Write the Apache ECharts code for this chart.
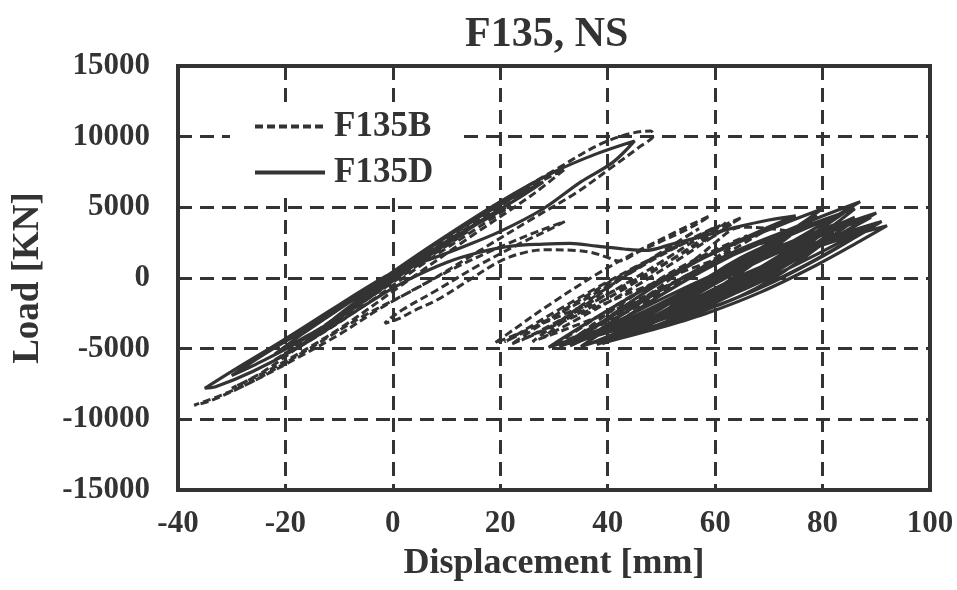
<!DOCTYPE html>
<html>
<head>
<meta charset="utf-8">
<script src="https://cdn.jsdelivr.net/npm/echarts@6/dist/echarts.min.js"></script>
<style>html,body{margin:0;padding:0;background:#fff}#c{width:957px;height:590px}</style>
</head>
<body>
<div id="c"></div>
<script>
// ---- data (displacement mm, load kN) ----
const seriesNames = ['F135B', 'F135D'];
const xTicks = [-40, -20, 0, 20, 40, 60, 80, 100];
const yTicks = [-15000, -10000, -5000, 0, 5000, 10000, 15000];

// F135B (dashed) - cycles around origin
const f135bEarly = [
  [0,0],[6,1300],[12,2800],[8,1800],[0,-300],[-8,-2300],[-14,-3700],[-8,-2100],[0,100],
  [10,2500],[18,4400],[22,5100],[16,3600],[6,1100],[-4,-1600],[-14,-4100],[-22,-5800],
  [-17,-4600],[-8,-2400],[2,400],[14,3600],[26,6500],[32,7700],[26,5900],[14,2800],
  [2,-400],[-10,-3600],[-22,-6300],[-30,-7800],[-24,-6600],[-14,-3900],[-3,-1000],
  [8,2200],[20,5300],[30,7600],[40,9700],[48,10400],[48.5,10100],[46,9300],[41,7900],
  [34,6000],[26,4200],[16,1900],[6,-400],[-6,-2800],[-16,-5100],[-26,-7300],[-32,-8300],
  [-37,-9000],[-34,-8700],[-26,-7300],[-18,-5700],[-10,-4000],[-3,-2300],[4,-800],
  [12,800],[20,2200],[27,3300],[32,4000],[29,3400],[24,2500],[16,900],[8,-900],
  [2,-2200],[-1,-3000],[-1.5,-3200],[1,-2900],[4,-2300],[8.2,-1560],[14,-200],
  [20,1200],[25,1850],[29,2000],[34,1950],[37,1800],[40,1450],[42,1200]
];
// F135B (dashed) - shifted cycles
const f135bLate = [
  [46,1900],[50,2600],[54,3300],[57,3900],[59,4400],
  [53,3320],[45,1784],[37,44],[29,-1924],[23,-3514],[19,-4600],
  [25.9,-3535],[35.1,-2019],[44.3,-299],[53.5,1649],[60.4,3224],[65,4300],
  [58.6,3220],[50,1684],[41.4,-56],[32.8,-2024],[26.3,-3614],[22,-4700],
  [28,-3680],[36,-2224],[44,-564],[52,1324],[58,2854],[62,3900],
  [56.6,2910],[49.4,1494],[42.2,-126],[35,-1974],[29.6,-3474],[26,-4500],
  [32.6,-3570],[41.4,-2234],[50.2,-694],[59,1074],[65.6,2514],[70,3500],
  [64,2525],[56,1129],[48,-471],[40,-2299],[34,-3784],[30,-4800],
  [35.4,-3900],[42.6,-2604],[49.8,-1104],[57,624],[62.4,2034],[66,3000],
  [61.2,2190],[54.8,1014],[48.4,-366],[42,-1974],[37.2,-3294],[34,-4200],
  [37.9,-3420],[43.1,-2300],[48.3,-1010],[53.5,470],[57.4,1675],[60,2500],
  [63,3400],[65,3600],[70,3500],[74,3200],
  [66.5,2195],[56.5,807],[46.5,-683],[36.5,-2287],[29,-3547],[24,-4400],
  [29.4,-3335],[36.6,-1867],[43.8,-297],[51,1387],[56.4,2707],[60,3600],
  [54.2,2520],[46.4,1032],[38.6,-558],[30.8,-2262],[24.9,-3597],[21,-4500],
  [26.4,-3435],[33.6,-1967],[40.8,-397],[48,1287],[53.4,2607],[57,3500],
  [52.7,2480],[46.9,1072],[41.1,-438],[35.3,-2062],[30.9,-3337],[28,-4200],
  [33.3,-3135],[40.3,-1667],[47.3,-97],[54.3,1587],[59.5,2907],[63,3800],
  [60,3000],[58,2600]
];

// F135D (solid) - cycles around origin
const f135dEarly = [
  [0,0],[5,1300],[10,2500],[14,3300],[10,2400],[4,900],[0,-200],[-6,-1800],[-12,-3200],
  [-8,-2000],[-2,-400],[4,1100],[10,2600],[18,4300],[21,5000],[16,3900],[8,1900],[0,-100],
  [-8,-2300],[-16,-4100],[-22,-5400],[-17,-4000],[-10,-2200],[0,300],[10,2900],[20,5200],
  [28,6800],[24,5800],[14,3500],[4,1000],[-6,-1700],[-16,-4200],[-26,-6200],[-30,-6900],
  [-24,-5400],[-14,-3100],[-4,-600],[8,2500],[20,5400],[30,7500],[38,8800],[45,9700],
  [41,8200],[35,6800],[28,4900],[20,3300],[13,2200],[6,1200],[0,400],[-10,-1900],
  [-20,-4300],[-30,-6600],[-35,-7800],[-33,-7700],[-26,-6600],[-18,-5000],[-10,-3100],
  [-3,-1400],[3,-100],[10,1100],[16,1800],[22,2250],[28,2400],[33,2450],[38,2250],
  [43,2050],[47,1950]
];
// F135D (solid) - shifted cycles
const f135dLate = [
  [52,2400],[58,3000],[64,3600],[70,4100],[75,4400],
  [68.7,3390],[60.3,1910],[51.9,160],[43.5,-1895],[37.2,-3590],[33,-4750],
  [40,-3707],[49.5,-2173],[58.9,-333],[68.3,1849],[75.3,3656],[80,4900],
  [72.4,3790],[62.2,2182],[52,302],[41.8,-1882],[34.1,-3672],[29,-4900],
  [37.7,-3760],[49.3,-2096],[60.9,-126],[72.5,2186],[81.2,4091],[87,5400],
  [79.2,4267],[68.8,2613],[58.4,653],[48,-1649],[40.2,-3546],[35,-4850],
  [43.3,-3837],[54.3,-2343],[65.3,-543],[76.3,1599],[84.5,3376],[90,4600],
  [82.5,3640],[72.5,2216],[62.5,486],[52.5,-1586],[45,-3311],[40,-4500],
  [47.8,-3720],[58.2,-2520],[68.6,-980],[79,940],[86.8,2570],[92,3700],
  [85,2965],[75.6,1841],[66.2,411],[56.8,-1361],[49.7,-2861],[45,-3900],
  [51,-3105],[59,-1917],[67,-457],[75,1307],[81,2782],[85,3800],
  [78,2885],[68.6,1537],[59.2,-83],[49.8,-2007],[42.7,-3602],[38,-4700],
  [44.9,-3665],[54.1,-2157],[63.3,-377],[72.5,1707],[79.4,3422],[84,4600],
  [77.7,3640],[69.3,2232],[60.9,552],[52.5,-1432],[46.2,-3072],[42,-4200],
  [48.9,-3435],[58.1,-2287],[67.3,-867],[76.5,857],[83.4,2302],[88,3300],
  [82.3,2625],[74.7,1613],[67.1,363],[59.5,-1153],[53.8,-2423],[50,-3300],
  [55.4,-2430],[62.6,-1142],[69.8,418],[77,2282],[82.4,3832],[86,4900],
  [77.8,3797],[66.8,2199],[55.8,329],[44.8,-1845],[36.5,-3627],[31,-4850],
  [38.1,-3882],[47.5,-2464],[56.9,-774],[66.3,1220],[73.3,2867],[78,4000],
  [71.7,3115],[63.3,1807],[54.9,227],[46.5,-1657],[40.2,-3222],[36,-4300],
  [44,-3370],[54.6,-2002],[65.2,-362],[75.8,1582],[83.7,3192],[89,4300],
  [82.3,3400],[73.3,2072],[64.3,472],[55.3,-1432],[48.5,-3012],[44,-4100],
  [49.7,-3350],[57.3,-2222],[64.9,-822],[72.5,882],[78.2,2312],[82,3300],
  [75.6,2467],[67,1229],[58.4,-281],[49.8,-2095],[43.3,-3607],[39,-4650],
  [44.3,-3862],[51.3,-2684],[58.3,-1234],[65.3,520],[70.5,1987],[74,3000],
  [70,2370],[64.6,1402],[59.2,162],[53.8,-1382],[49.7,-2692],[47,-3600],
  [53.6,-2820],[62.4,-1652],[71.2,-212],[80,1532],[86.6,2992],[91,4000],
  [85.2,3325],[77.4,2297],[69.6,997],[61.8,-607],[55.9,-1962],[52,-2900],
  [56.2,-2465],[61.8,-1757],[67.4,-777],[73,507],[77.2,1622],[80,2400],
  [74,1300],[68,200],[60,-1200],[50,-2800],[42,-3900],[37,-4600],
  [44.4,-3445],[54.2,-1841],[64,-101],[73.8,1791],[81.1,3286],[86,4300],
  [79.3,3175],[70.3,1611],[61.3,-89],[52.3,-1941],[45.5,-3406],[41,-4400],
  [47.3,-3335],[55.7,-1851],[64.1,-231],[72.5,1541],[78.8,2946],[83,3900],
  [75.5,2775],[65.5,1211],[55.5,-489],[45.5,-2341],[38,-3806],[33,-4800],
  [39.9,-3600],[49.1,-1936],[58.3,-136],[67.5,1816],[74.4,3356],[79,4400],
  [74.1,3350],[67.5,1886],[60.9,286],[54.3,-1466],[49.3,-2856],[46,-3800],
  [52.6,-2825],[61.4,-1461],[70.2,39],[79,1691],[85.6,3006],[90,3900],
  [83,2895],[73.6,1491],[64.2,-49],[54.8,-1741],[47.7,-3086],[43,-4000],
  [50,-2900],[58,-1500],[66,0],[72,1100]
];

// ---- chart ----
const FONT = "'Liberation Serif', 'Times New Roman', serif";
const INK = '#333333';
const chart = echarts.init(document.getElementById('c'), null, {renderer: 'canvas'});
chart.setOption({
  backgroundColor: '#ffffff',
  animation: false,
  title: {
    text: 'F135, NS', left: 460, top: 9,
    textStyle: {fontFamily: FONT, fontWeight: 'bold', fontSize: 42, color: INK}
  },
  grid: {left: 178, right: 27, top: 66, bottom: 100, show: true,
         borderColor: INK, borderWidth: 4, backgroundColor: 'transparent'},
  legend: {
    data: seriesNames, orient: 'vertical', left: 230, top: 103,
    backgroundColor: '#ffffff', padding: [6, 26, 6, 23],
    itemWidth: 70, itemHeight: 14, itemGap: 11,
    lineStyle: {width: 4},
    itemStyle: {color: 'rgba(0,0,0,0)', borderColor: 'rgba(0,0,0,0)', borderWidth: 0, opacity: 0},
    textStyle: {fontFamily: FONT, fontWeight: 'bold', fontSize: 35, color: INK, padding: [0,0,0,4]}
  },
  xAxis: {
    type: 'value', min: xTicks[0], max: xTicks[xTicks.length-1], interval: 20,
    name: 'Displacement [mm]', nameLocation: 'middle', nameGap: 56,
    nameTextStyle: {fontFamily: FONT, fontWeight: 'bold', fontSize: 36, color: INK},
    axisLine: {show: false}, axisTick: {show: false},
    axisLabel: {fontFamily: FONT, fontWeight: 'bold', fontSize: 31, color: INK, margin: 18,
                formatter: v => String(v)},
    splitLine: {show: true, lineStyle: {color: INK, width: 3, type: [14, 8]}}
  },
  yAxis: {
    type: 'value', min: yTicks[0], max: yTicks[yTicks.length-1], interval: 5000,
    name: 'Load [KN]', nameLocation: 'middle', nameGap: 131,
    nameTextStyle: {fontFamily: FONT, fontWeight: 'bold', fontSize: 37, color: INK},
    axisLine: {show: false}, axisTick: {show: false},
    axisLabel: {fontFamily: FONT, fontWeight: 'bold', fontSize: 31, color: INK, margin: 28,
                formatter: v => String(v)},
    splitLine: {show: true, lineStyle: {color: INK, width: 3, type: [14, 8]}}
  },
  series: [
    {
      name: 'F135B', type: 'line', data: f135bEarly.concat(f135bLate),
      symbol: 'none', smooth: 0.35, z: 3,
      lineStyle: {color: INK, width: 3, type: [8, 4]}, itemStyle: {color: INK}
    },
    {
      name: 'F135D', type: 'line', data: f135dEarly.concat(f135dLate),
      symbol: 'none', smooth: 0.35, z: 4,
      lineStyle: {color: INK, width: 3.2, type: 'solid'}, itemStyle: {color: INK}
    }
  ]
});
</script>
</body>
</html>
